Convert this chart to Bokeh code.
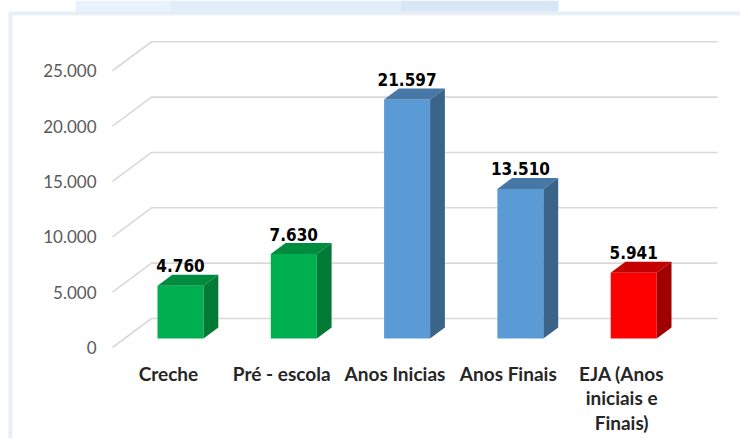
from bokeh.plotting import figure
from bokeh.models import Range1d, BoxAnnotation
from bokeh.core.properties import value
from bokeh.embed import file_html
from bokeh.resources import INLINE

# ---------------- data ----------------
categories = ["Creche", "Pré - escola", "Anos Inicias", "Anos Finais", "EJA (Anos\niniciais e\nFinais)"]
values = [4760, 7630, 21597, 13510, 5941]
value_labels = ["4.760", "7.630", "21.597", "13.510", "5.941"]
y_ticks = [0, 5000, 10000, 15000, 20000, 25000]
y_tick_labels = ["0", "5.000", "10.000", "15.000", "20.000", "25.000"]

# ---------------- styles ----------------
front_colors = ["#00b050", "#00b050", "#5b9bd5", "#5b9bd5", "#ff0000"]
top_colors = ["#008c3f", "#008c3f", "#4677a6", "#4677a6", "#c40000"]
side_colors = ["#007a34", "#007a34", "#3a6588", "#3a6588", "#a00000"]

W, H = 740, 438
PX_PER_CAT = 113.3          # pixels per category step
PX_PER_UNIT = 0.01107       # pixels per value unit
ORIGIN_X = 180              # canvas px of first bar centre
ORIGIN_Y = 338              # canvas px of bar base
SLOPE = 1.345               # dx/dy of the depth direction


def ddx(depth_px):
    return depth_px * SLOPE / PX_PER_CAT


def ddy(depth_px):
    return depth_px / PX_PER_UNIT


HALF = 23 / PX_PER_CAT      # half width of front face
BAR_DEPTH = 11
WALL_DEPTH = 20
FRONT_DEPTH = -9
FRONT_LEFT_PX = 112
WALL_RIGHT_PX = 717

p = figure(width=W, height=H, output_backend="svg", toolbar_location=None,
           x_axis_location=None, y_axis_location=None,
           x_range=Range1d(-ORIGIN_X / PX_PER_CAT, (W - ORIGIN_X) / PX_PER_CAT),
           y_range=Range1d(-(H - ORIGIN_Y) / PX_PER_UNIT, ORIGIN_Y / PX_PER_UNIT),
           min_border=0, outline_line_color=None)
p.xgrid.visible = False
p.ygrid.visible = False
p.background_fill_color = "white"
p.border_fill_color = "white"


def canvas_box(**kw):
    return BoxAnnotation(left_units="canvas", right_units="canvas",
                         top_units="canvas", bottom_units="canvas", **kw)


# faint header image band and chart border
p.add_layout(canvas_box(left=75, right=170, top=0, bottom=11, fill_color="#e9f2fb",
                        fill_alpha=1, line_color=None, level="underlay"))
p.add_layout(canvas_box(left=170, right=400, top=0, bottom=11, fill_color="#e1edf9",
                        fill_alpha=1, line_color=None, level="underlay"))
p.add_layout(canvas_box(left=400, right=558, top=0, bottom=11, fill_color="#d7e7f5",
                        fill_alpha=1, line_color=None, level="underlay"))
p.add_layout(canvas_box(left=11.5, right=3000, top=14.5, bottom=3000,
                        fill_alpha=0, line_color="#d2d2d2", line_width=1))
p.add_layout(canvas_box(left=9.5, right=3000, top=12.5, bottom=3000,
                        fill_alpha=0, line_color="#a6c8e9", line_width=3))

# ---------------- gridlines (back wall + side diagonals) ----------------
front_left = (FRONT_LEFT_PX - ORIGIN_X) / PX_PER_CAT
wall_left = front_left + ddx(WALL_DEPTH - FRONT_DEPTH)
wall_right = (WALL_RIGHT_PX - ORIGIN_X) / PX_PER_CAT
gx, gy = [], []
for t in y_ticks:
    gx.append([front_left, wall_left, wall_right])
    gy.append([t + ddy(FRONT_DEPTH), t + ddy(WALL_DEPTH), t + ddy(WALL_DEPTH)])
p.multi_line(gx, gy, line_color="#d9d9d9", line_width=1.6)

# ---------------- 3D bars ----------------
idx = list(range(len(values)))
p.quad(left=[i - HALF for i in idx], right=[i + HALF for i in idx],
       bottom=0, top=values, fill_color=front_colors, line_color=None)

top_xs, top_ys, side_xs, side_ys = [], [], [], []
dx, dy = ddx(BAR_DEPTH), ddy(BAR_DEPTH)
for i, v in zip(idx, values):
    top_xs.append([i - HALF, i + HALF, i + HALF + dx, i - HALF + dx])
    top_ys.append([v, v, v + dy, v + dy])
    side_xs.append([i + HALF, i + HALF + dx, i + HALF + dx, i + HALF])
    side_ys.append([0, dy, v + dy, v])
p.patches(top_xs, top_ys, fill_color=top_colors, line_color=None)
p.patches(side_xs, side_ys, fill_color=side_colors, line_color=None)

# ---------------- texts ----------------
p.text(x=idx, y=values, text=value_labels, text_align="center", text_baseline="middle",
       y_offset=-20, text_font=value("DejaVu Sans Condensed, DejaVu Sans"),
       text_font_style="bold", text_font_size="17px", text_color="#000000")

p.text(x=[i + ddx(FRONT_DEPTH) for i in idx], y=[ddy(FRONT_DEPTH)] * len(idx), text=categories,
       text_align="center", text_baseline="top", y_offset=14, text_line_height=1.08,
       text_font=value("Lato"), text_font_style="bold", text_font_size="19px",
       text_color="#262626")

p.text(x=[front_left] * len(y_ticks), y=[t + ddy(FRONT_DEPTH) for t in y_ticks],
       text=y_tick_labels, text_align="right", text_baseline="middle", x_offset=-16,
       text_font=value("Lato"), text_font_size="17px", text_color="#595959")

open("out.html", "w").write(file_html(p, INLINE))
